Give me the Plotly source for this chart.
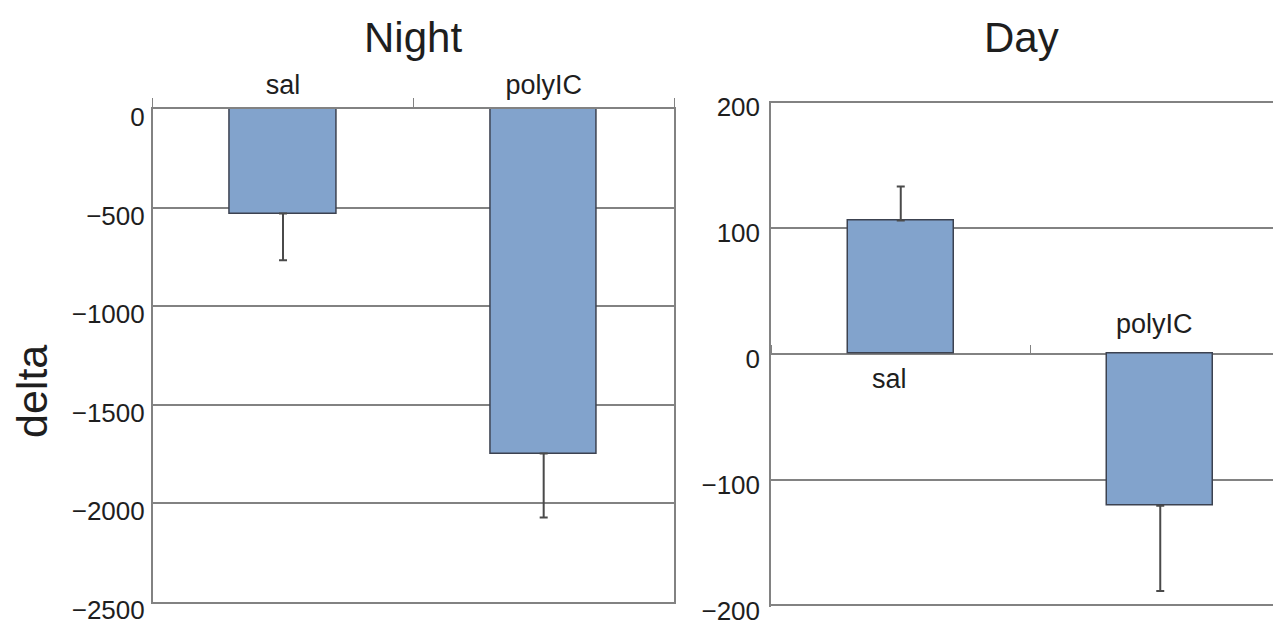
import plotly.graph_objects as go

categories = ["sal", "polyIC"]
night_values = [-530, -1747]
night_err = [237, 324]
day_values = [105.6, -120.9]
day_err = [27, 67.6]
night_ticks = [0, -500, -1000, -1500, -2000, -2500]
day_ticks = [200, 100, 0, -100, -200]

FONT = "Liberation Sans, Arial, sans-serif"
TXT = "#1e1e1e"
BAR = "#82a3cc"
EDGE = "#3c4250"
GRID = "#828282"
OFF = 8  # default page body margin
W, H = 1281 - OFF, 628 - OFF


def px(x):
    return (x - OFF) / W


def py(y):
    return 1 - (y - OFF) / H


def split_err(vals, errs):
    plus = [e if v > 0 else 0 for v, e in zip(vals, errs)]
    minus = [e if v < 0 else 0 for v, e in zip(vals, errs)]
    return plus, minus


def minus_sign(v):
    return f"{v}".replace("-", "\u2212")


fig = go.Figure()

np_, nm_ = split_err(night_values, night_err)
fig.add_trace(go.Bar(
    x=categories, y=night_values, width=0.41,
    marker=dict(color=BAR, line=dict(color=EDGE, width=1.5)),
    error_y=dict(type="data", symmetric=False, array=np_, arrayminus=nm_,
                 color="#4a4a4a", thickness=2, width=4),
    xaxis="x", yaxis="y", showlegend=False,
))

dp_, dm_ = split_err(day_values, day_err)
fig.add_trace(go.Bar(
    x=categories, y=day_values, width=0.41,
    marker=dict(color=BAR, line=dict(color=EDGE, width=1.5)),
    error_y=dict(type="data", symmetric=False, array=dp_, arrayminus=dm_,
                 color="#4a4a4a", thickness=2, width=4),
    xaxis="x2", yaxis="y2", showlegend=False,
))

tickfont = dict(family=FONT, size=26, color=TXT)

fig.update_layout(
    width=W, height=H,
    margin=dict(l=0, r=0, t=0, b=0, autoexpand=False),
    paper_bgcolor="white", plot_bgcolor="white",
    bargap=0,
    xaxis=dict(
        domain=[px(152.7), px(674)], range=[-0.5, 1.5],
        side="top", anchor="y", automargin=False,
        showline=True, linecolor=GRID, linewidth=1.5, mirror=True,
        ticks="outside", tickson="boundaries", ticklen=9, tickcolor=GRID,
        tickfont=dict(family=FONT, size=27, color=TXT), ticklabelstandoff=2,
        showgrid=False, fixedrange=True,
    ),
    yaxis=dict(
        domain=[py(602), py(108.9)], range=[-2500, 0],
        anchor="x", automargin=False, ticklabeloverflow="allow",
        tickvals=night_ticks, ticktext=[minus_sign(v) for v in night_ticks],
        tickfont=tickfont, ticklabelshift=8, ticklabelstandoff=1,
        showline=True, linecolor=GRID, linewidth=1.5, mirror=True,
        showgrid=True, gridcolor=GRID, gridwidth=1.5,
        zeroline=False, ticks="",
    ),
    xaxis2=dict(
        domain=[px(771), 1.0], range=[-0.5, -0.5 + (1281 - 771) / 259.5],
        side="top", anchor="free", position=py(354), automargin=False,
        showline=False,
        ticks="outside", tickson="boundaries", ticklen=9, tickcolor=GRID,
        showticklabels=False, showgrid=False,
    ),
    yaxis2=dict(
        domain=[py(606.5), py(100.5)], range=[-200.8, 200.8],
        anchor="x2", automargin=False, ticklabeloverflow="allow",
        tickvals=day_ticks, ticktext=[minus_sign(v) for v in day_ticks],
        tickfont=tickfont, ticklabelshift=5, ticklabelstandoff=4,
        showline=True, linecolor=GRID, linewidth=1.5,
        showgrid=True, gridcolor=GRID, gridwidth=1.5,
        zeroline=False, ticks="",
    ),
)

annotations = [
    dict(text="Night", x=px(413), y=py(38), xref="paper", yref="paper",
         xanchor="center", yanchor="middle",
         showarrow=False, font=dict(family=FONT, size=42, color=TXT)),
    dict(text="Day", x=px(1021), y=py(38), xref="paper", yref="paper",
         xanchor="center", yanchor="middle",
         showarrow=False, font=dict(family=FONT, size=42, color=TXT)),
    dict(text="delta", x=px(32), y=py(392), xref="paper", yref="paper",
         xanchor="center", yanchor="middle",
         showarrow=False, textangle=-90, font=dict(family=FONT, size=43, color=TXT)),
    dict(text=categories[0], x=categories[0], y=0, xref="x2", yref="y2",
         xanchor="center", yanchor="middle",
         showarrow=False, yshift=-25, xshift=-11, font=dict(family=FONT, size=27, color=TXT)),
    dict(text=categories[1], x=categories[1], y=0, xref="x2", yref="y2",
         xanchor="center", yanchor="middle",
         showarrow=False, yshift=30, xshift=-6, font=dict(family=FONT, size=27, color=TXT)),
]
fig.update_layout(annotations=annotations)

fig.write_html("out.html")
